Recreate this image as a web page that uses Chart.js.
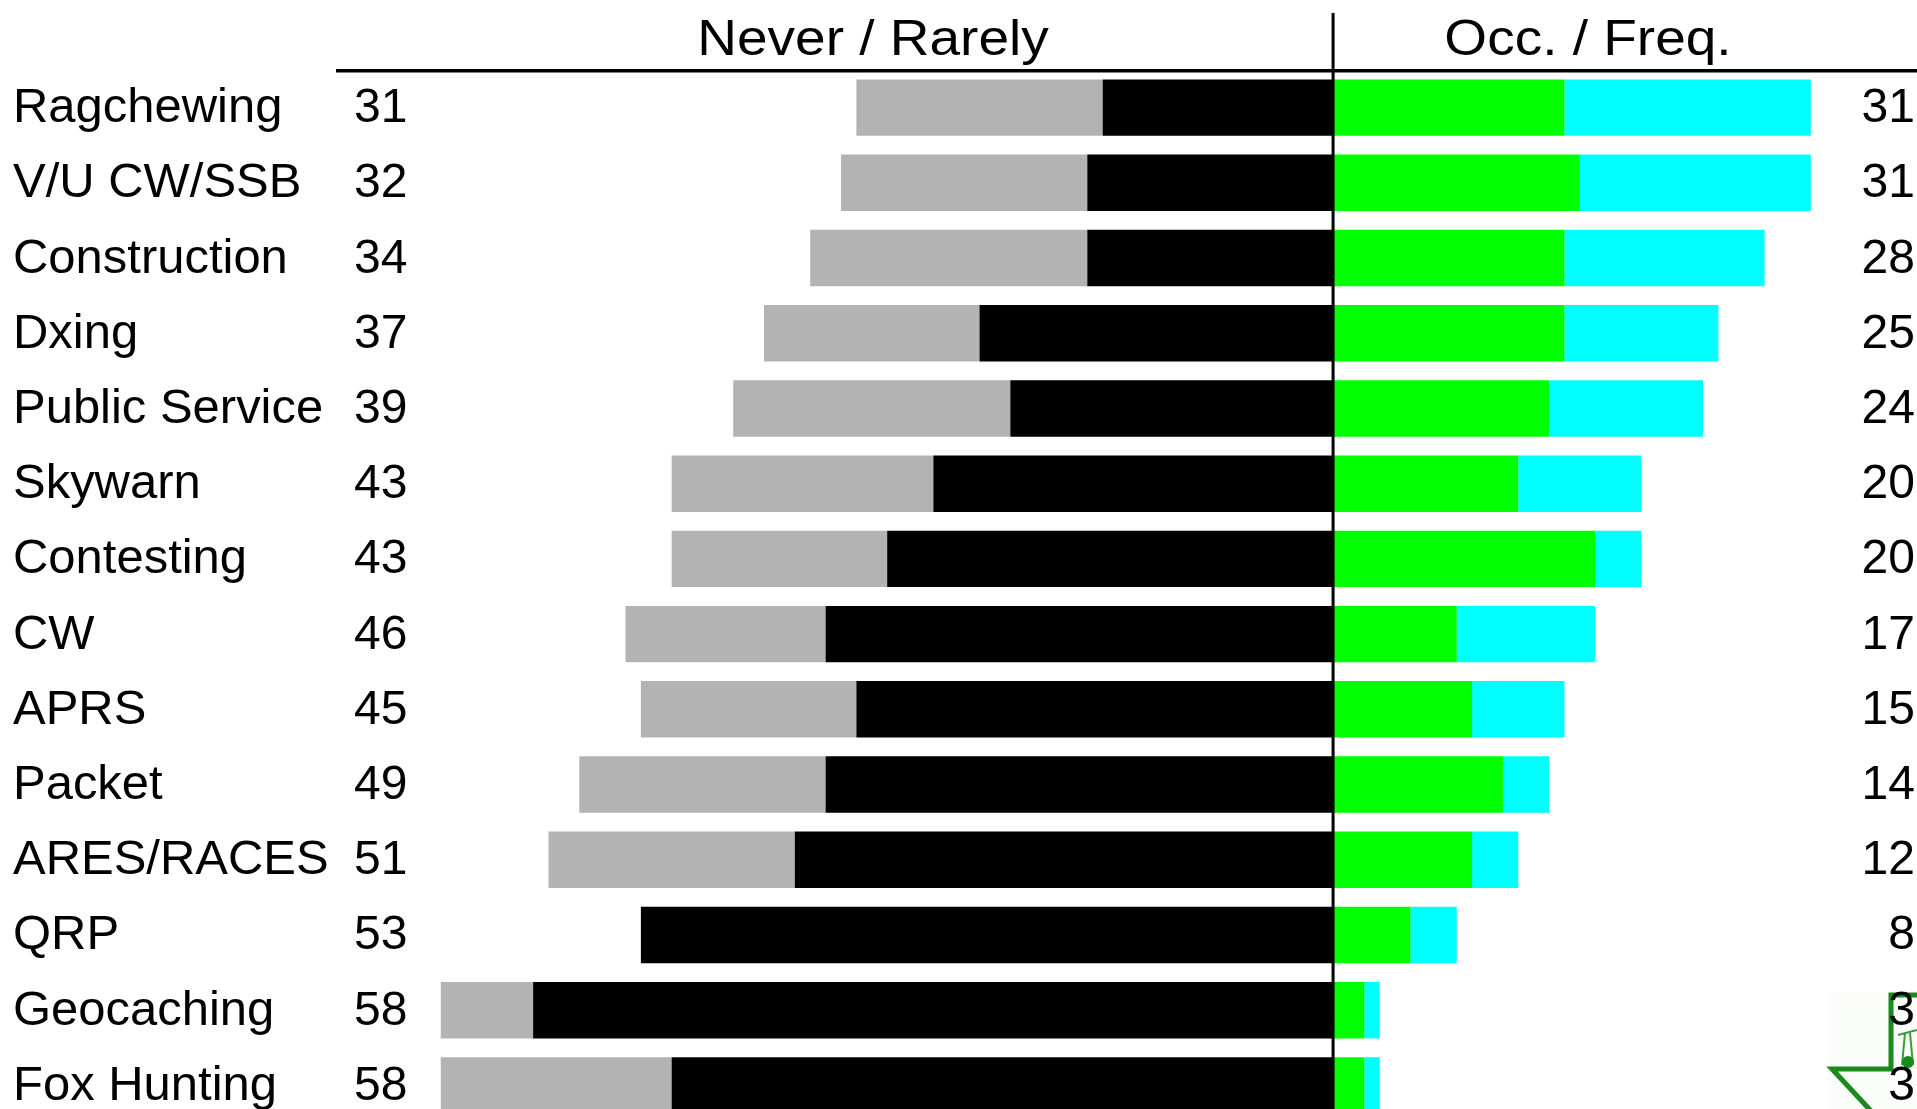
<!DOCTYPE html>
<html>
<head>
<meta charset="utf-8">
<script src="https://cdn.jsdelivr.net/npm/chart.js@4.4.1/dist/chart.umd.min.js"></script>
<style>
  html, body { margin: 0; padding: 0; background: #ffffff; overflow: hidden; }
  #wrap { width: 1917px; height: 1109px; overflow: hidden; position: relative; }
  canvas { display: block; }
</style>
</head>
<body>
<div id="wrap"><canvas id="c" width="1917" height="1123"></canvas></div>
<script>
// ---- data ----
const categories = ['Ragchewing', 'V/U CW/SSB', 'Construction', 'Dxing', 'Public Service', 'Skywarn', 'Contesting', 'CW', 'APRS', 'Packet', 'ARES/RACES', 'QRP', 'Geocaching', 'Fox Hunting'];
const rarely = [15, 16, 16, 23, 21, 26, 29, 33, 31, 33, 35, 45, 52, 43];       // black, inner left
const never = [16, 16, 18, 14, 18, 17, 14, 13, 14, 16, 16, 0, 6, 15];         // gray, outer left
const occasionally = [15, 16, 15, 15, 14, 12, 17, 8, 9, 11, 9, 5, 2, 2];       // green, inner right
const frequently = [16, 15, 13, 10, 10, 8, 3, 9, 6, 3, 3, 3, 1, 1];           // cyan, outer right
const leftTotals = ['31', '32', '34', '37', '39', '43', '43', '46', '45', '49', '51', '53', '58', '58'];
const rightTotals = ['31', '31', '28', '25', '24', '20', '20', '17', '15', '14', '12', '8', '3', '3'];
const headerLeft = 'Never / Rarely';
const headerRight = 'Occ. / Freq.';

const FONT = '"Liberation Sans", Arial, Helvetica, sans-serif';

const overlay = {
  id: 'overlay',
  afterDraw(chart) {
    const ctx = chart.ctx;
    const xs = chart.scales.x;
    const ys = chart.scales.y;
    const x0 = xs.getPixelForValue(0);
    ctx.save();

    // logo (partial, bottom right)
    ctx.fillStyle = '#fbfdfb';
    ctx.fillRect(1828, 993, 95, 130);
    ctx.strokeStyle = '#1a8a1a';
    ctx.lineWidth = 5;
    ctx.lineJoin = 'miter';
    ctx.beginPath();
    ctx.moveTo(1920, 995);
    ctx.lineTo(1891, 995);
    ctx.lineTo(1891, 1069);
    ctx.lineTo(1832, 1069);
    ctx.lineTo(1872, 1112);
    ctx.stroke();
    ctx.strokeStyle = '#3a9a3a';
    ctx.lineWidth = 2;
    ctx.beginPath();
    ctx.moveTo(1898, 1035); ctx.lineTo(1917, 1030);
    ctx.moveTo(1905, 1033); ctx.lineTo(1902, 1065);
    ctx.moveTo(1910, 1033); ctx.lineTo(1913, 1065);
    ctx.stroke();
    ctx.fillStyle = '#1a8a1a';
    ctx.beginPath(); ctx.arc(1908, 1062, 6, 0, Math.PI * 2); ctx.fill();

    // divider
    ctx.strokeStyle = '#000';
    ctx.lineWidth = 3;
    ctx.beginPath();
    ctx.moveTo(x0 - 0.5, 13);
    ctx.lineTo(x0 - 0.5, chart.height);
    ctx.stroke();
    // header rule
    ctx.lineWidth = 3.5;
    ctx.beginPath();
    ctx.moveTo(336, 70.7);
    ctx.lineTo(chart.width, 70.7);
    ctx.stroke();

    // headers
    ctx.fillStyle = '#000';
    ctx.textBaseline = 'alphabetic';
    ctx.textAlign = 'center';
    ctx.font = '50px ' + FONT;
    const hs = 1.1;
    ctx.save(); ctx.translate(873, 55); ctx.scale(hs, 1); ctx.fillText(headerLeft, 0, 0); ctx.restore();
    ctx.save(); ctx.translate(1588, 55); ctx.scale(hs, 1); ctx.fillText(headerRight, 0, 0); ctx.restore();

    // row labels
    ctx.font = '48px ' + FONT;
    categories.forEach((c, i) => {
      const y = ys.getPixelForValue(i) + 14.5;
      ctx.textAlign = 'left';
      ctx.save(); ctx.translate(13, y); ctx.scale(1.02, 1); ctx.fillText(c, 0, 0); ctx.restore();
      ctx.fillText(leftTotals[i], 354, y);
      ctx.textAlign = 'right';
      ctx.fillText(rightTotals[i], 1915, y);
    });
    ctx.restore();
  }
};

new Chart(document.getElementById('c'), {
  type: 'bar',
  data: {
    labels: categories,
    datasets: [
      { label: 'Rarely', data: rarely.map(v => -v), backgroundColor: '#000000' },
      { label: 'Never', data: never.map(v => -v), backgroundColor: '#b3b3b3' },
      { label: 'Occasionally', data: occasionally, backgroundColor: '#00ff00' },
      { label: 'Frequently', data: frequently, backgroundColor: '#00ffff' }
    ]
  },
  options: {
    indexAxis: 'y',
    responsive: false,
    animation: false,
    devicePixelRatio: 1,
    layout: { padding: { left: 333, right: 0, top: 70, bottom: 0 } },
    datasets: { bar: { barPercentage: 0.75, categoryPercentage: 1, borderWidth: 0 } },
    plugins: { legend: { display: false }, tooltip: { enabled: false }, title: { display: false } },
    scales: {
      x: { type: 'linear', stacked: true, min: -65, max: 37.9, display: false },
      y: { type: 'category', stacked: true, display: false }
    }
  },
  plugins: [overlay]
});
</script>
</body>
</html>
